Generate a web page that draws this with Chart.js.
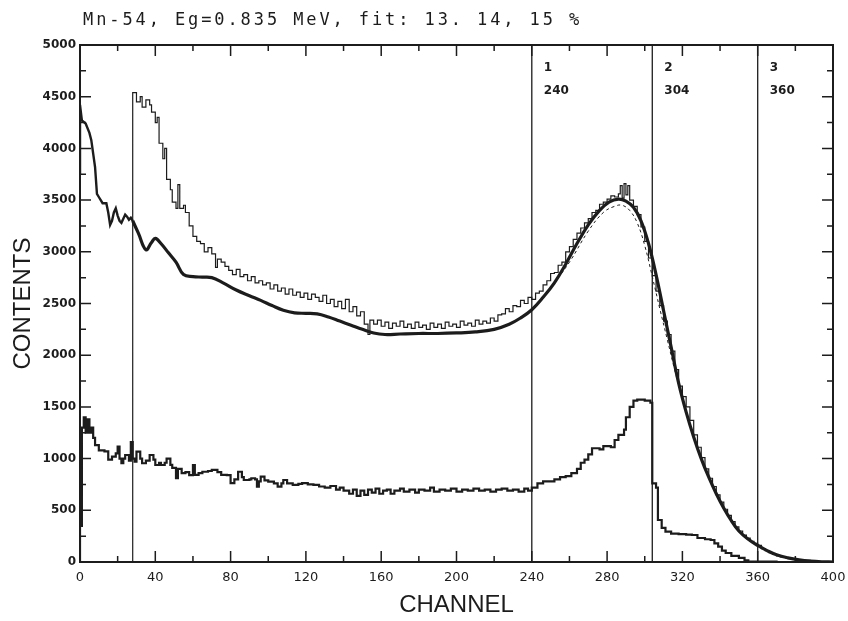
<!DOCTYPE html>
<html>
<head>
<meta charset="utf-8">
<script src="https://cdn.jsdelivr.net/npm/chart.js@4"></script>
<style>
  html, body { margin: 0; padding: 0; background: #fff; }
  #wrap { width: 848px; height: 621px; }
</style>
</head>
<body>
<div id="wrap"><canvas id="chartSpectrum"></canvas></div>
<script>
const titleText = 'Mn-54, Eg=0.835 MeV, fit: 13. 14, 15 %';
const markerCh = [240, 304, 360];
const markerNo = ['1', '2', '3'];

// measured spectrum (thin histogram), [channel, contents]
const upperSpectrum = [
  [28,0],[28,4540],[30,4450],[32,4500],[33,4400],[35,4470],[37,4420],[38,4350],[40,4250],[41,4300],
  [42,4050],[44,3900],[45,4000],[46,3700],[48,3600],[49,3480],[51,3420],[52,3650],[53,3420],[55,3450],
  [56,3380],[58,3250],[60,3150],[62,3100],[64,3080],[66,3000],[68,3040],[70,2980],[72,2850],[73,2930],
  [75,2900],[77,2860],[79,2820],[81,2780],[83,2830],[85,2760],[87,2780],[89,2720],[91,2760],[93,2700],
  [95,2720],[97,2680],[99,2700],[101,2640],[103,2680],[105,2620],[107,2650],[109,2590],[111,2640],[113,2580],
  [115,2610],[117,2560],[119,2600],[121,2540],[123,2590],[125,2560],[127,2520],[129,2580],[131,2500],[133,2540],
  [135,2470],[137,2520],[139,2450],[141,2540],[143,2420],[145,2470],[147,2380],[149,2420],[151,2300],[153,2200],
  [154,2340],[156,2300],[158,2340],[160,2280],[162,2320],[164,2260],[166,2310],[168,2280],[170,2330],[172,2270],
  [174,2300],[176,2260],[178,2320],[180,2270],[182,2290],[184,2250],[186,2310],[188,2270],[190,2300],[192,2260],
  [194,2320],[196,2280],[198,2300],[200,2270],[202,2330],[204,2290],[206,2310],[208,2280],[210,2340],[212,2300],
  [214,2330],[216,2310],[218,2360],[220,2330],[222,2390],[224,2400],[226,2450],[228,2420],[230,2480],[232,2470],
  [234,2530],[236,2500],[238,2560],[240,2540],[242,2600],[244,2620],[246,2680],[248,2720],[250,2790],[252,2800],
  [254,2870],[256,2900],[258,3000],[260,3050],[262,3120],[264,3180],[266,3230],[268,3280],[270,3320],[272,3380],
  [274,3400],[276,3460],[278,3480],[280,3510],[282,3540],[284,3530],[286,3560],[287,3640],[288,3520],[289,3660],
  [290,3550],[291,3640],[292,3500],[294,3440],[296,3360],[298,3240],[300,3100],[302,2940],[304,2770],[306,2620],
  [308,2480],[310,2330],[312,2200],[314,2040],[316,1860],[318,1700],[320,1600],[322,1500],[324,1370],[326,1230],
  [328,1110],[330,1010],[332,900],[334,810],[336,730],[338,650],[340,580],[342,510],[344,450],[346,390],
  [348,340],[350,300],[352,260],[354,230],[356,200],[358,180],[360,160],[362,130],[364,110],[366,90],
  [368,75],[370,60],[372,50],[375,40],[378,30],[381,20],[384,15],[388,10],[392,5],[396,0],[400,0]
];

// simulated spectrum, noisy low-channel part
const simLow = [
  [0,3750],[0,4420],[1,4270],[3,4240],[5,4150],[6,4080],[7,3950],[8,3820],[9,3560],[10,3530],
  [12,3470],[14,3470],[15,3380],[16,3260],[17,3300],[18,3380],[19,3420],[20,3350],[21,3300],[22,3280],
  [23,3320],[24,3360],[25,3340],[26,3310],[27,3330],[28,3300]
];

// simulated spectrum, smooth part (thick line)
const simFit = [
  [28,3300],[31,3180],[35,3020],[38,3090],[40,3130],[43,3080],[47,2990],[51,2900],[55,2780],[60,2760],
  [65,2755],[70,2750],[76,2700],[83,2630],[90,2575],[96,2530],[102,2480],[108,2435],[114,2410],[120,2405],
  [126,2400],[132,2370],[138,2330],[144,2290],[150,2250],[156,2215],[162,2200],[170,2205],[180,2210],[190,2210],
  [200,2215],[210,2225],[220,2250],[228,2300],[234,2360],[240,2440],[246,2560],[252,2700],[258,2880],[264,3080],
  [270,3260],[276,3400],[281,3480],[286,3510],[290,3490],[294,3430],[298,3300],[302,3080],[306,2780],[310,2430],
  [314,2080],[318,1730],[322,1450],[326,1210],[330,1000],[334,820],[338,660],[342,520],[346,400],[350,300],
  [355,220],[360,160],[365,110],[370,70],[376,40],[382,20],[388,8],[394,2],[400,0]
];

// second fit near the peak (thin dashed)
const altFit = [
  [250,2650],[260,2900],[270,3200],[278,3380],[284,3440],[288,3450],[292,3400],[296,3280],[300,3060],
  [304,2760],[308,2450],[312,2150],[316,1850],[320,1580]
];

// lower histogram, [channel, contents]
const lowerSpectrum = [
  [0,0],[0,350],[1,1300],[2,1400],[3,1250],[4,1380],[5,1250],[6,1300],[7,1200],[8,1130],
  [10,1080],[13,1070],[15,990],[17,1020],[19,1050],[20,1115],[21,1000],[22,955],[23,1000],[24,1035],
  [26,980],[27,1160],[28,1000],[29,970],[30,1067],[32,1000],[33,955],[35,980],[37,1035],[39,990],
  [40,938],[42,960],[43,938],[45,960],[46,1000],[48,940],[49,910],[51,810],[52,900],[54,860],
  [56,870],[58,840],[60,938],[61,843],[63,860],[65,873],[68,880],[70,890],[73,870],[75,843],
  [78,840],[80,763],[82,800],[84,873],[86,820],[87,793],[90,800],[91,810],[93,800],[94,728],
  [95,780],[96,825],[98,790],[100,777],[103,760],[105,728],[107,760],[108,793],[110,760],[113,745],
  [116,755],[118,763],[121,750],[124,745],[127,730],[130,720],[133,735],[136,700],[138,720],[140,690],
  [143,660],[145,700],[147,640],[149,690],[151,650],[153,700],[155,670],[157,710],[159,660],[161,690],
  [163,700],[165,660],[167,690],[170,710],[172,680],[175,700],[178,670],[180,700],[183,690],[186,720],
  [188,680],[191,700],[194,690],[197,710],[200,680],[203,700],[206,690],[209,710],[212,690],[215,700],
  [218,680],[221,700],[224,710],[227,690],[230,700],[233,680],[236,710],[238,690],[240,720],[243,760],
  [246,780],[249,780],[252,800],[255,820],[258,830],[261,860],[264,900],[266,960],[268,990],[270,1040],
  [272,1100],[276,1090],[278,1120],[282,1110],[284,1180],[286,1230],[289,1280],[290,1400],[292,1500],[294,1560],
  [296,1570],[300,1560],[303,1540],[304,760],[306,720],[307,406],[309,330],[311,293],[314,275],[318,270],
  [322,265],[325,261],[328,232],[332,220],[335,213],[337,180],[339,148],[341,110],[343,87],[346,60],
  [350,39],[353,15],[355,3],[370,0]
];

const ink = '#1c1c1c';
const pts = (arr) => arr.map(([x, y]) => ({ x, y }));

// frame, inward ticks, channel markers and header
const frame = {
  id: 'frame',
  afterDatasetsDraw(chart) {
    const { ctx, chartArea: a, scales: { x, y } } = chart;
    ctx.save();
    ctx.strokeStyle = ink;
    ctx.fillStyle = ink;

    ctx.lineWidth = 1.3;
    ctx.font = 'bold 12px "DejaVu Sans"';
    ctx.textBaseline = 'middle';
    markerCh.forEach((c, i) => {
      const px = x.getPixelForValue(c);
      ctx.beginPath();
      ctx.moveTo(px, a.top);
      ctx.lineTo(px, a.bottom);
      ctx.stroke();
      ctx.fillText(markerNo[i], px + 12, a.top + 23);
      ctx.fillText(String(c), px + 12, a.top + 46);
    });

    ctx.lineWidth = 1.5;
    ctx.beginPath();
    for (let v = x.min; v <= x.max; v += 20) {
      const px = x.getPixelForValue(v);
      const len = v % 40 ? 6 : 11;
      ctx.moveTo(px, a.bottom); ctx.lineTo(px, a.bottom - len);
      ctx.moveTo(px, a.top); ctx.lineTo(px, a.top + len);
    }
    for (let v = y.min; v <= y.max; v += 250) {
      const py = y.getPixelForValue(v);
      const len = v % 500 ? 6 : 11;
      ctx.moveTo(a.left, py); ctx.lineTo(a.left + len, py);
      ctx.moveTo(a.right, py); ctx.lineTo(a.right - len, py);
    }
    ctx.stroke();

    ctx.lineWidth = 2;
    ctx.strokeRect(a.left, a.top, a.right - a.left, a.bottom - a.top);

    ctx.font = '17px "DejaVu Sans Mono"';
    ctx.letterSpacing = '2.9px';
    ctx.textBaseline = 'alphabetic';
    ctx.fillText(titleText, 83, 25);
    ctx.restore();
  }
};

new Chart(document.getElementById('chartSpectrum'), {
  type: 'line',
  data: {
    datasets: [
      { data: pts(altFit), borderColor: ink, borderWidth: 1, borderDash: [3, 3], tension: 0.4 },
      { data: pts(simFit), borderColor: ink, borderWidth: 3.2, tension: 0.4 },
      { data: pts(simLow), borderColor: ink, borderWidth: 2.4 },
      { data: pts(upperSpectrum), borderColor: ink, borderWidth: 1.2, stepped: true },
      { data: pts(lowerSpectrum), borderColor: ink, borderWidth: 2.2, stepped: true },
    ],
  },
  options: {
    responsive: true,
    maintainAspectRatio: false,
    animation: false,
    parsing: false,
    elements: { point: { radius: 0 } },
    layout: { padding: { top: 45, right: 15, left: 0, bottom: 0 } },
    plugins: { legend: { display: false }, title: { display: false }, tooltip: { enabled: false } },
    scales: {
      x: {
        type: 'linear', min: 0, max: 400,
        afterFit: (s) => { s.height = 59; s.paddingLeft = 0; s.paddingRight = 0; },
        grid: { display: false, drawTicks: false },
        border: { display: false },
        ticks: { stepSize: 40, maxRotation: 0, autoSkip: false, padding: 8, color: ink, font: { family: 'DejaVu Sans', size: 13 } },
        title: { display: true, text: 'CHANNEL', color: ink, padding: { top: 0, bottom: 1 }, font: { family: 'Liberation Sans', size: 24 } },
      },
      y: {
        min: 0, max: 5000,
        afterFit: (s) => { s.width = 80; s.paddingTop = 0; s.paddingBottom = 0; },
        grid: { display: false, drawTicks: false },
        border: { display: false },
        ticks: { stepSize: 500, padding: 4, color: ink, callback: (v) => String(v), font: { family: 'DejaVu Sans', size: 12, weight: 'bold' } },
        title: { display: true, text: 'CONTENTS', color: ink, padding: { top: 9, bottom: 0 }, font: { family: 'Liberation Sans', size: 24 } },
      },
    },
  },
  plugins: [frame],
});
</script>
</body>
</html>
